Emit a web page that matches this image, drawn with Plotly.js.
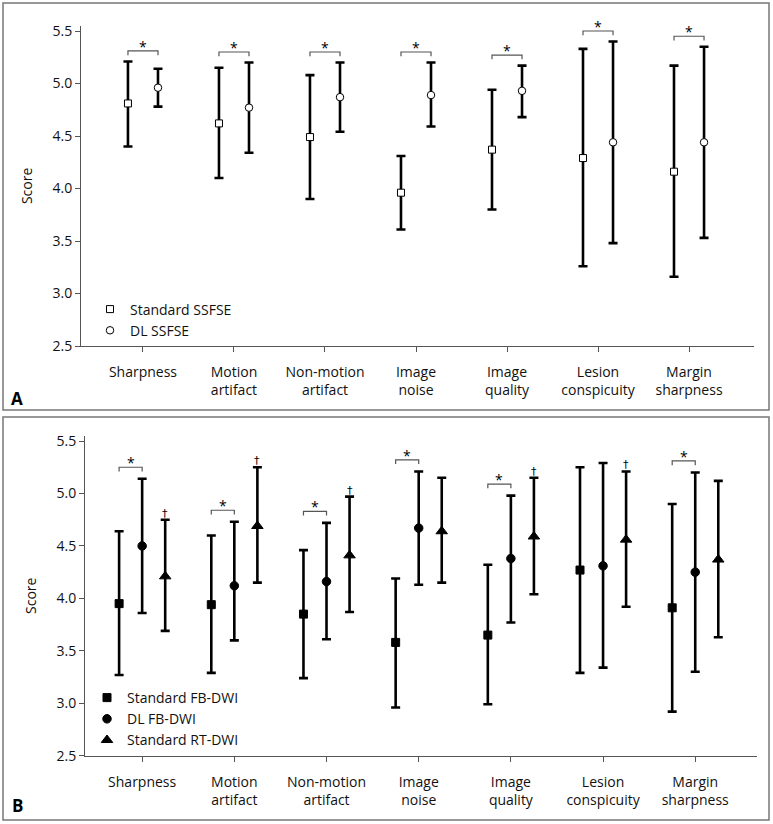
<!DOCTYPE html>
<html>
<head>
<meta charset="utf-8">
<script src="https://cdn.plot.ly/plotly-3.0.1.min.js"></script>
<style>html,body{margin:0;padding:0;background:#fff;} #chart{width:773px;height:824px;}</style>
</head>
<body>
<div id="chart"></div>
<script>
// ---- Data ----
const categories = ['Sharpness','Motion<br>artifact','Non-motion<br>artifact','Image<br>noise','Image<br>quality','Lesion<br>conspicuity','Margin<br>sharpness'];
const yTicks = [2.5, 3.0, 3.5, 4.0, 4.5, 5.0, 5.5];

// Panel A
const stdSSFSE_mean  = [4.81, 4.62, 4.49, 3.96, 4.37, 4.29, 4.16];
const stdSSFSE_upper = [5.21, 5.15, 5.08, 4.31, 4.94, 5.33, 5.17];
const stdSSFSE_lower = [4.40, 4.10, 3.90, 3.61, 3.80, 3.26, 3.16];
const dlSSFSE_mean   = [4.96, 4.77, 4.87, 4.89, 4.93, 4.44, 4.44];
const dlSSFSE_upper  = [5.14, 5.20, 5.20, 5.20, 5.17, 5.40, 5.35];
const dlSSFSE_lower  = [4.78, 4.34, 4.54, 4.59, 4.68, 3.48, 3.53];
const sigA = [1, 1, 1, 1, 1, 1, 1];

// Panel B
const stdFB_mean  = [3.95, 3.94, 3.85, 3.58, 3.65, 4.27, 3.91];
const stdFB_upper = [4.64, 4.60, 4.46, 4.19, 4.32, 5.25, 4.90];
const stdFB_lower = [3.27, 3.29, 3.24, 2.96, 2.99, 3.29, 2.92];
const dlFB_mean   = [4.50, 4.12, 4.16, 4.67, 4.38, 4.31, 4.25];
const dlFB_upper  = [5.14, 4.73, 4.72, 5.21, 4.98, 5.29, 5.20];
const dlFB_lower  = [3.86, 3.60, 3.61, 4.13, 3.77, 3.34, 3.30];
const stdRT_mean  = [4.21, 4.69, 4.41, 4.64, 4.59, 4.56, 4.37];
const stdRT_upper = [4.75, 5.25, 4.97, 5.15, 5.15, 5.21, 5.12];
const stdRT_lower = [3.69, 4.15, 3.87, 4.15, 4.04, 3.92, 3.63];
const sigB    = [1, 1, 1, 1, 1, 0, 1];
const daggerB = [1, 1, 1, 0, 1, 1, 0];

// ---- Layout helpers ----
const W = 773, H = 824;
const FONT = 'Open Sans, Lato, DejaVu Sans, sans-serif';
const px = v => v / W;
const py = v => 1 - v / H;
const idx = categories.map((c, i) => i);

function errTrace(mean, upper, lower, off, symbol, size, fill, name, xa, ya, legend) {
  return {
    type: 'scatter', mode: 'markers', name: name,
    x: idx.map(i => i + off), y: mean,
    xaxis: xa, yaxis: ya, legend: legend,
    marker: {symbol: symbol, size: size, color: fill, line: {color: '#000', width: 1}},
    error_y: {type: 'data', symmetric: false,
      array: mean.map((m, i) => upper[i] - m),
      arrayminus: mean.map((m, i) => m - lower[i]),
      color: '#000', thickness: 2.6, width: 4.5},
    cliponaxis: false
  };
}

function bracketTrace(sig, up1, up2, o1, o2, xa, ya, pad) {
  const x = [], y = [];
  sig.forEach((s, i) => {
    if (!s) return;
    const h = Math.max(up1[i], up2[i]) + pad;
    x.push(i + o1, i + o1, i + o2, i + o2, null);
    y.push(h - 0.04, h, h, h - 0.04, null);
  });
  return {type: 'scatter', mode: 'lines', x: x, y: y, xaxis: xa, yaxis: ya,
    line: {color: '#555', width: 1.2}, showlegend: false, hoverinfo: 'skip', cliponaxis: false};
}

function starAnns(sig, up1, up2, o1, o2, xa, ya, pad) {
  const out = [];
  sig.forEach((s, i) => {
    if (!s) return;
    const h = Math.max(up1[i], up2[i]) + pad;
    out.push({xref: xa, yref: ya, x: i + (o1 + o2) / 2, y: h, text: '*', showarrow: false,
      yanchor: 'bottom', yshift: -7, font: {family: FONT, size: 14, color: '#000'}});
  });
  return out;
}

const offA = 0.165, offB = 0.25;

const traces = [
  errTrace(stdSSFSE_mean, stdSSFSE_upper, stdSSFSE_lower, -offA, 'square', 7, '#fff', 'Standard SSFSE', 'x', 'y', 'legend'),
  errTrace(dlSSFSE_mean, dlSSFSE_upper, dlSSFSE_lower, offA, 'circle', 7.5, '#fff', 'DL SSFSE', 'x', 'y', 'legend'),
  bracketTrace(sigA, stdSSFSE_upper, dlSSFSE_upper, -offA, offA, 'x', 'y', 0.1),
  errTrace(stdFB_mean, stdFB_upper, stdFB_lower, -offB, 'square', 8, '#000', 'Standard FB-DWI', 'x2', 'y2', 'legend2'),
  errTrace(dlFB_mean, dlFB_upper, dlFB_lower, 0, 'circle', 8.5, '#000', 'DL FB-DWI', 'x2', 'y2', 'legend2'),
  errTrace(stdRT_mean, stdRT_upper, stdRT_lower, offB, 'triangle-up', 10, '#000', 'Standard RT-DWI', 'x2', 'y2', 'legend2'),
  bracketTrace(sigB, stdFB_upper, dlFB_upper, -offB, 0, 'x2', 'y2', 0.11)
];

let annotations = [];
annotations = annotations.concat(starAnns(sigA, stdSSFSE_upper, dlSSFSE_upper, -offA, offA, 'x', 'y', 0.1));
annotations = annotations.concat(starAnns(sigB, stdFB_upper, dlFB_upper, -offB, 0, 'x2', 'y2', 0.11));
daggerB.forEach((d, i) => {
  if (!d) return;
  annotations.push({xref: 'x2', yref: 'y2', x: i + offB, y: stdRT_upper[i], text: '†', showarrow: false,
    yanchor: 'bottom', yshift: -2, font: {family: 'DejaVu Sans, sans-serif', size: 11, color: '#000'}});
});
annotations.push({xref: 'paper', yref: 'paper', x: px(17), y: py(398), text: '<b>A</b>', showarrow: false,
  xanchor: 'center', yanchor: 'middle', font: {family: FONT, size: 17, color: '#000'}});
annotations.push({xref: 'paper', yref: 'paper', x: px(17), y: py(805), text: '<b>B</b>', showarrow: false,
  xanchor: 'center', yanchor: 'middle', font: {family: FONT, size: 17, color: '#000'}});

const axisCommon = {
  showline: true, linecolor: '#555', linewidth: 1, ticks: 'outside', ticklen: 5, tickcolor: '#555',
  showgrid: false, zeroline: false, tickfont: {family: FONT, size: 14, color: '#111'}, fixedrange: true
};

const yaxisCommon = Object.assign({}, axisCommon, {
  range: [2.5, 5.55], tickvals: yTicks, ticktext: yTicks.map(v => v.toFixed(1)),
  title: {text: 'Score', font: {family: FONT, size: 14, color: '#111'}, standoff: 16}
});

const layout = {
  width: W, height: H, margin: {l: 0, r: 0, t: 0, b: 0},
  paper_bgcolor: '#fff', plot_bgcolor: 'rgba(0,0,0,0)', showlegend: true,
  font: {family: FONT, color: '#111'},
  xaxis: Object.assign({}, axisCommon, {domain: [px(81), px(754)], range: [-0.681, 6.714],
    tickvals: idx, ticktext: categories, ticklabelstandoff: 8, anchor: 'y'}),
  yaxis: Object.assign({}, yaxisCommon, {domain: [py(346), py(25.75)], anchor: 'x'}),
  xaxis2: Object.assign({}, axisCommon, {domain: [px(85), px(757)], range: [-0.62, 6.67],
    tickvals: idx, ticktext: categories, ticklabelstandoff: 8, anchor: 'y2'}),
  yaxis2: Object.assign({}, yaxisCommon, {domain: [py(755.7), py(435.8)], anchor: 'x2'}),
  legend: {x: px(90), y: py(293.5), xanchor: 'left', yanchor: 'top', bgcolor: 'rgba(0,0,0,0)',
    font: {family: FONT, size: 14, color: '#111'}, tracegroupgap: 0, itemwidth: 30},
  legend2: {x: px(87), y: py(682), xanchor: 'left', yanchor: 'top', bgcolor: 'rgba(0,0,0,0)',
    font: {family: FONT, size: 14, color: '#111'}, tracegroupgap: 0, itemwidth: 30},
  shapes: [
    {type: 'rect', xref: 'paper', yref: 'paper', x0: px(3), x1: px(769), y0: py(410), y1: py(3),
      line: {color: '#777', width: 1.5}},
    {type: 'rect', xref: 'paper', yref: 'paper', x0: px(3), x1: px(769), y0: py(820), y1: py(417),
      line: {color: '#777', width: 1.5}}
  ],
  annotations: annotations
};

Plotly.newPlot('chart', traces, layout, {displayModeBar: false, staticPlot: true});
</script>
</body>
</html>
